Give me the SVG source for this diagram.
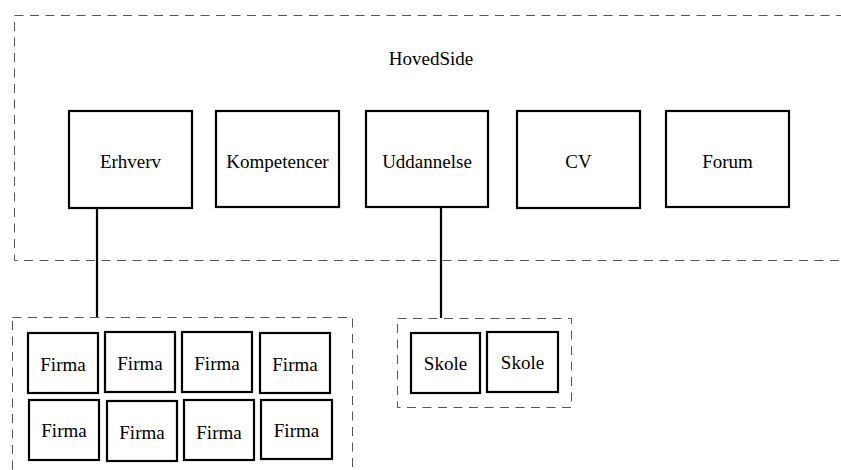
<svg xmlns="http://www.w3.org/2000/svg" width="841" height="470" viewBox="0 0 841 470">
<style>
.grp{fill:none;stroke:#555;stroke-width:1;stroke-dasharray:9 6.5}
.box{fill:#fff;stroke:#000;stroke-width:2.2}
.lbl{font-family:"Liberation Serif","Times New Roman",serif;font-size:19px;fill:#000;text-anchor:middle}
.conn{stroke:#000;stroke-width:2.2;fill:none}
</style>
<rect width="841" height="470" fill="#fff"/>
<g id="hovedside">
<rect class="grp" x="14.5" y="15.5" width="840" height="245"/>
<text class="lbl" x="431" y="65">HovedSide</text>
</g>
<g id="firma-group"><rect class="grp" x="12.5" y="317.5" width="340" height="170"/></g>
<g id="skole-group"><rect class="grp" x="397.5" y="318.5" width="174" height="89"/></g>
<g id="connectors">
<line class="conn" x1="97" y1="208" x2="97" y2="317"/>
<line class="conn" x1="441" y1="208" x2="441" y2="318"/>
</g>
<g id="erhverv"><rect class="box" x="69" y="111" width="123" height="97"/><text class="lbl" x="130.5" y="168">Erhverv</text></g>
<g id="kompetencer"><rect class="box" x="216" y="111" width="123" height="96"/><text class="lbl" x="277.5" y="168">Kompetencer</text></g>
<g id="uddannelse"><rect class="box" x="366" y="111" width="122" height="96"/><text class="lbl" x="427" y="168">Uddannelse</text></g>
<g id="cv"><rect class="box" x="517" y="111" width="123" height="97"/><text class="lbl" x="578.5" y="168">CV</text></g>
<g id="forum"><rect class="box" x="666" y="111" width="123" height="96"/><text class="lbl" x="727.5" y="168">Forum</text></g>
<g id="firma1"><rect class="box" x="28" y="333" width="70" height="60"/><text class="lbl" x="63" y="371">Firma</text></g>
<g id="firma2"><rect class="box" x="105" y="332" width="70" height="60"/><text class="lbl" x="140" y="370">Firma</text></g>
<g id="firma3"><rect class="box" x="182" y="332" width="70" height="60"/><text class="lbl" x="217" y="370">Firma</text></g>
<g id="firma4"><rect class="box" x="260" y="333" width="70" height="60"/><text class="lbl" x="295" y="371">Firma</text></g>
<g id="firma5"><rect class="box" x="29" y="400" width="70" height="60"/><text class="lbl" x="64" y="437">Firma</text></g>
<g id="firma6"><rect class="box" x="107" y="401" width="70" height="60"/><text class="lbl" x="142" y="439">Firma</text></g>
<g id="firma7"><rect class="box" x="184" y="400" width="70" height="60"/><text class="lbl" x="219" y="439">Firma</text></g>
<g id="firma8"><rect class="box" x="261" y="400" width="71" height="59"/><text class="lbl" x="296.5" y="437">Firma</text></g>
<g id="skole1"><rect class="box" x="411" y="333" width="69" height="60"/><text class="lbl" x="445.5" y="370">Skole</text></g>
<g id="skole2"><rect class="box" x="487" y="332" width="71" height="60"/><text class="lbl" x="522.5" y="369">Skole</text></g>
</svg>
